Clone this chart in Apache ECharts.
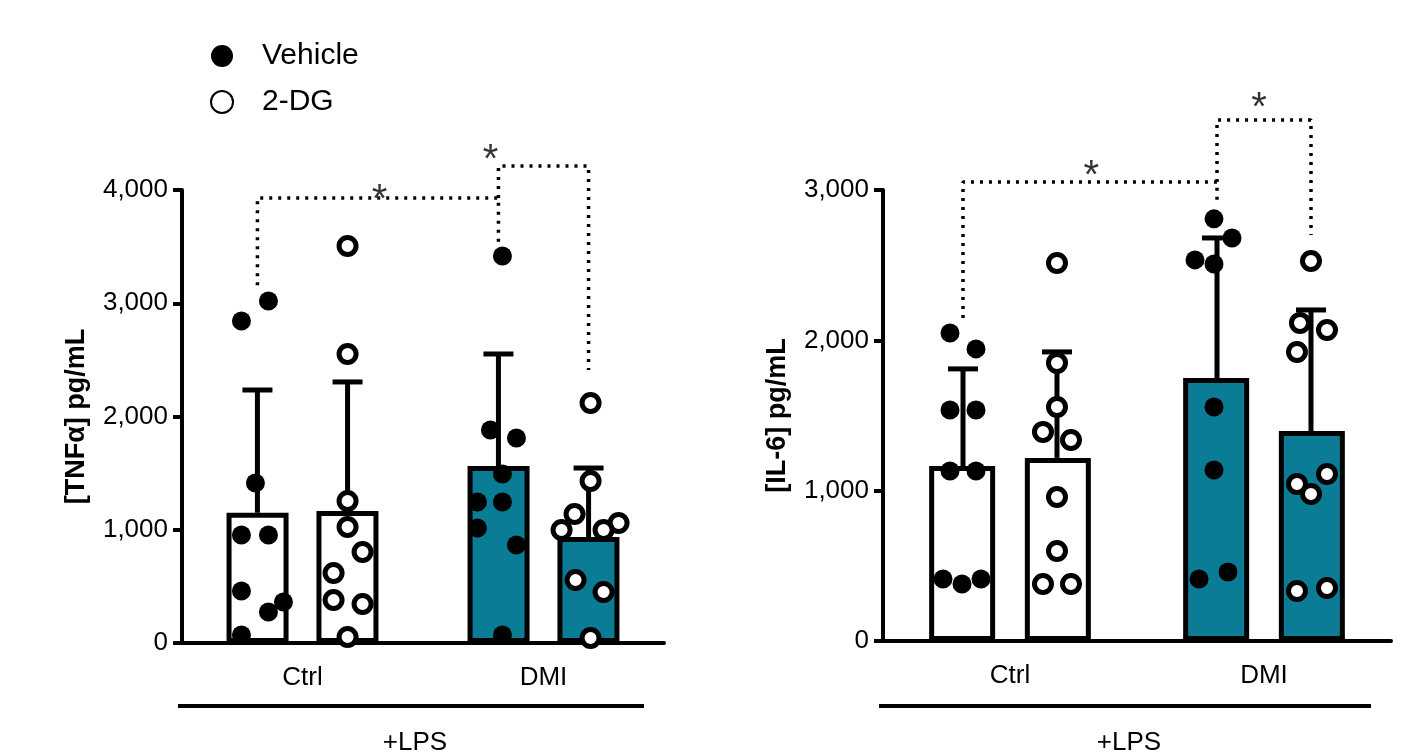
<!DOCTYPE html>
<html><head><meta charset="utf-8">
<script src="https://cdn.jsdelivr.net/npm/echarts@6/dist/echarts.min.js"></script>
<style>html,body{margin:0;padding:0;background:#fff}#c{width:1407px;height:755px}</style>
</head><body><div id="c"></div>
<script>
const categories = ['Ctrl', 'DMI'];
// TNFa
const tnfMeanV = [1150, 1563];
const tnfMeanD = [1165, 936];
const tnfErrV = [2234, 2552];
const tnfErrD = [2305, 1545];
const tnfPtsV = [
  [[-16,2843],[11,3020],[-2,1413],[-16,954],[11,954],[-16,459],[11,274],[26,362],[-16,71]],
  [[4,3417],[-8,1881],[18,1810],[4,1492],[-21,1245],[4,1245],[-21,1015],[18,865],[4,71]]
];
const tnfPtsD = [
  [[0,3505],[0,2552],[0,1254],[0,1024],[15,803],[-14,618],[-14,380],[15,344],[0,53]],
  [[2,2119],[2,1430],[-14,1139],[30,1060],[15,998],[-27,998],[-13,556],[15,450],[2,44]]
];
// IL-6
const ilMeanV = [1164, 1750];
const ilMeanD = [1218, 1397];
const ilErrV = [1810, 2681];
const ilErrD = [1923, 2202];
const ilPtsV = [
  [[-13,2049],[13,1943],[-13,1537],[13,1537],[-13,1131],[13,1131],[-20,412],[-1,379],[18,412]],
  [[-3,2808],[15,2681],[-22,2535],[-3,2508],[-3,1557],[-3,1138],[-18,412],[11,459]],
];
const ilPtsD = [
  [[0,2515],[0,1850],[0,1557],[-14,1391],[14,1337],[0,958],[0,599],[-14,379],[14,379]],
  [[0,2528],[-11,2116],[16,2069],[-14,1923],[16,1111],[-14,1045],[0,978],[-14,333],[16,353]]
];
const tnfTicks = [0,1000,2000,3000,4000];
const ilTicks = [0,1000,2000,3000];

const TEAL = '#0b7c95';
const grids = [
  {left:182, top:190, width:482, height:453, max:4000, interval:1000, name:'[TNFα] pg/mL', mv:tnfMeanV, md:tnfMeanD, ev:tnfErrV, ed:tnfErrD, pv:tnfPtsV, pd:tnfPtsD, bw:62, off:0.187,
   br:[[[0.5-0.187,3160],[0.5-0.187,3930],[1.5-0.187,3930],[1.5-0.187,3523]],[[1.5-0.187,3930],[1.5-0.187,4212],[1.5+0.187,4212],[1.5+0.187,2410]]],
   stars:[[0.82,3900],[1.28,4260]]},
  {left:883, top:190, width:508, height:451, max:3000, interval:1000, name:'[IL-6] pg/mL', mv:ilMeanV, md:ilMeanD, ev:ilErrV, ed:ilErrD, pv:ilPtsV, pd:ilPtsD, bw:66, off:0.185,
   br:[[[0.5-0.185,2149],[0.5-0.185,3054],[1.5-0.185,3054],[1.5-0.185,2900]],[[1.5-0.185,3054],[1.5-0.185,3466],[1.5+0.185,3466],[1.5+0.185,2700]]],
   stars:[[0.82,3090],[1.48,3540]]}
];
const option = {animation:false, grid:[], xAxis:[], yAxis:[], series:[], graphic:[],
  legend:{data:['Vehicle','2-DG'], orient:'vertical', left:205, top:36, itemGap:16, itemWidth:22, itemHeight:22,
    textStyle:{fontSize:30, color:'#000', fontFamily:'Liberation Sans', padding:[0,0,0,24]}}};
grids.forEach((g,i)=>{
  option.grid.push({left:g.left, top:g.top, width:g.width, height:g.height});
  const ax = {lineStyle:{color:'#000', width:4}};
  option.xAxis.push({type:'category', gridIndex:i, data:categories, axisLine:ax, axisTick:{show:false},
    axisLabel:{fontSize:26, color:'#000', margin:22, fontFamily:'Liberation Sans'}});
  option.xAxis.push({type:'value', gridIndex:i, min:0, max:2, show:false});
  option.yAxis.push({type:'value', gridIndex:i, min:0, max:g.max, interval:g.interval, splitLine:{show:false},
    axisLine:{show:true, lineStyle:{color:'#000', width:4}}, axisTick:{show:true, length:9, lineStyle:{width:4}},
    axisLabel:{fontSize:26, color:'#000', margin:14, fontFamily:'Liberation Sans'},
    name:g.name, nameLocation:'middle', nameGap:92, nameTextStyle:{fontSize:27, fontWeight:'bold', color:'#000', fontFamily:'Liberation Sans'}});
  const xc = i*2, xv = i*2+1;
  const barData = arr => arr.map((v,k)=>({value:v, itemStyle:{color:k===0?'#fff':TEAL, borderColor:'#000', borderWidth:5}}));
  option.series.push({type:'bar', name:'vb', xAxisIndex:xc, yAxisIndex:i, data:barData(g.mv), barWidth:g.bw, barGap:'45%', z:2});
  option.series.push({type:'bar', name:'db', xAxisIndex:xc, yAxisIndex:i, data:barData(g.md), barWidth:g.bw, z:2});
  const errData = [];
  [0,1].forEach(k=>{errData.push([k+0.5-g.off, g.mv[k], g.ev[k]]); errData.push([k+0.5+g.off, g.md[k], g.ed[k]]);});
  option.series.push({type:'custom', xAxisIndex:xv, yAxisIndex:i, z:3, data:errData,
    renderItem:(p,api)=>{const a=api.coord([api.value(0),api.value(1)]), b=api.coord([api.value(0),api.value(2)]);
      return {type:'group', children:[
        {type:'line', shape:{x1:a[0],y1:a[1],x2:b[0],y2:b[1]}, style:{stroke:'#000', lineWidth:5}},
        {type:'line', shape:{x1:b[0]-15,y1:b[1],x2:b[0]+15,y2:b[1]}, style:{stroke:'#000', lineWidth:5}}]};}});
  const pts = (P,sign)=>{const out=[]; P.forEach((grp,k)=>grp.forEach(p=>out.push([k+0.5+sign*g.off+p[0]/(g.width/2), p[1]]))); return out;};
  option.series.push({type:'scatter', name:'Vehicle', xAxisIndex:xv, yAxisIndex:i, z:5, data:pts(g.pv,-1), symbolSize:19,
    itemStyle:{color:'#000', opacity:1}});
  option.series.push({type:'scatter', name:'2-DG', xAxisIndex:xv, yAxisIndex:i, z:5, data:pts(g.pd,1), symbolSize:17,
    itemStyle:{color:'#fff', borderColor:'#000', borderWidth:5, opacity:1}});
  g.br.forEach(b=>option.series.push({type:'line', xAxisIndex:xv, yAxisIndex:i, data:b, clip:false, symbol:'none', z:4,
    lineStyle:{color:'#000', width:3.5, type:[3,6]}}));
  option.series.push({type:'scatter', xAxisIndex:xv, yAxisIndex:i, data:g.stars, clip:false, symbolSize:0,
    label:{show:true, formatter:'*', fontSize:40, color:'#000', fontFamily:'Liberation Sans', position:'inside'}});
  option.graphic.push({type:'rect', shape:{x:g.left-4, y:704, width:g.width-16, height:4}, style:{fill:'#000'}});
  option.graphic.push({type:'text', x:g.left+(g.width-16)/2, y:730, style:{text:'+LPS', fontSize:26, fill:'#000', textAlign:'center', fontFamily:'Liberation Sans'}});
});
// legend icons styled per series
echarts.init(document.getElementById('c')).setOption(option);
</script></body></html>
